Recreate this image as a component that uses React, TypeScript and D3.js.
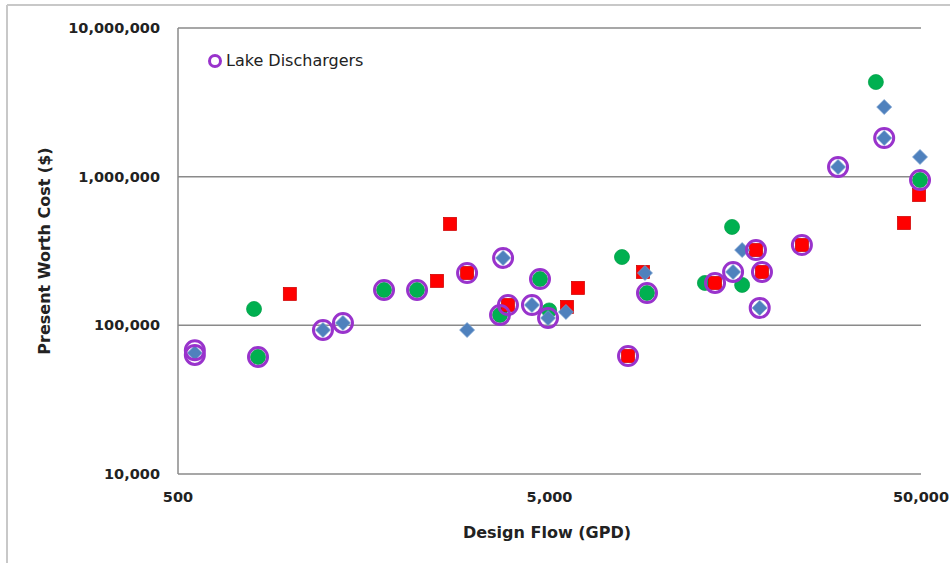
import React from "react";
import * as d3 from "d3";

// ---- data (Design Flow GPD, Present Worth Cost $) ----
const xTicks = [500, 5000, 50000];
const yTicks = [10000, 100000, 1000000, 10000000];

const greenFlow = [801, 821, 1793, 2200, 3680, 4714, 4990, 7835, 9150, 13100, 15500, 16500, 37800, 49700];
const greenCost = [128900, 61300, 173000, 173000, 117500, 205000, 126000, 288000, 165000, 192800, 459000, 187000, 4330000, 950000];

const redFlow = [1000, 2490, 2700, 3000, 3865, 5574, 5964, 8135, 8925, 13950, 17980, 18660, 23900, 49400, 45000];
const redCost = [162600, 199000, 481000, 225000, 137000, 133000, 178500, 62200, 228600, 192800, 321000, 228600, 347000, 753000, 488000];

const blueFlow = [555, 1228, 1390, 3000, 3750, 4485, 4955, 5536, 9036, 15600, 16500, 18400, 29900, 39800, 39800, 49700];
const blueCost = [65200, 93100, 103800, 93000, 284000, 137000, 112000, 123000, 225000, 228600, 321000, 131000, 1162000, 2940000, 1820000, 1357000];

const lakeFlow = [555, 555, 821, 1228, 1390, 1793, 2200, 3000, 3750, 3680, 3865, 4485, 4714, 4955, 8135, 9150, 13950, 15600, 17980, 18660, 18400, 23900, 29900, 39800, 49700];
const lakeCost = [68000, 63200, 61300, 93100, 103800, 173000, 173000, 225000, 284000, 117500, 137000, 137000, 205000, 112000, 62200, 165000, 192800, 228600, 321000, 228600, 131000, 347000, 1162000, 1820000, 950000];

const legendLabel = "Lake Dischargers";
const xTitle = "Design Flow (GPD)";
const yTitle = "Present Worth Cost ($)";

const W = 950;
const H = 563;
const plot = { left: 178, right: 921, top: 28, bottom: 474 };

const fmt = d3.format(",");

export default function App() {
  const x = d3.scaleLog().domain([500, 50000]).range([plot.left, plot.right]);
  const y = d3.scaleLog().domain([10000, 10000000]).range([plot.bottom, plot.top]);
  const font = "'DejaVu Sans', sans-serif";
  const grid = "#8a8a8a";

  const pts = (fx: number[], fy: number[]) => fx.map((v, i) => [x(v), y(fy[i])] as [number, number]);

  return (
    <svg width={W} height={H} style={{ position: "absolute", left: 0, top: 0, background: "#fff" }}>
      {/* outer chart border */}
      <line x1={7} y1={5} x2={W} y2={5} stroke="#c8c8c8" strokeWidth={2} />
      <line x1={7} y1={5} x2={7} y2={H} stroke="#c8c8c8" strokeWidth={2} />

      {/* gridlines */}
      {yTicks.map((t) => (
        <line key={t} x1={plot.left} x2={plot.right} y1={y(t)} y2={y(t)} stroke={grid} strokeWidth={1.5} />
      ))}
      <line x1={plot.left} x2={plot.left} y1={plot.top} y2={plot.bottom} stroke={grid} strokeWidth={1.5} />

      {/* y tick labels */}
      {yTicks.map((t) => (
        <text key={t} x={160} y={y(t)} dy="0.35em" textAnchor="end" fontFamily={font} fontWeight="bold" fontSize={14.5} fill="#222">
          {fmt(t)}
        </text>
      ))}
      {/* x tick labels */}
      {xTicks.map((t) => (
        <text key={t} x={x(t)} y={502} textAnchor="middle" fontFamily={font} fontWeight="bold" fontSize={14.5} fill="#222">
          {fmt(t)}
        </text>
      ))}

      {/* axis titles */}
      <text x={547} y={538} textAnchor="middle" fontFamily={font} fontWeight="bold" fontSize={16} fill="#222">
        {xTitle}
      </text>
      <text transform={`translate(50,${(plot.top + plot.bottom) / 2}) rotate(-90)`} textAnchor="middle" fontFamily={font} fontWeight="bold" fontSize={16} fill="#222">
        {yTitle}
      </text>

      {/* green circles */}
      {pts(greenFlow, greenCost).map(([cx, cy], i) => (
        <circle key={"g" + i} cx={cx} cy={cy} r={7.5} fill="#00B050" stroke="#00A048" strokeWidth={0.75} />
      ))}
      {/* red squares */}
      {pts(redFlow, redCost).map(([cx, cy], i) => (
        <rect key={"r" + i} x={cx - 6.5} y={cy - 6.5} width={13} height={13} fill="#FF0000" stroke="#D00000" strokeWidth={0.75} />
      ))}
      {/* blue diamonds */}
      {pts(blueFlow, blueCost).map(([cx, cy], i) => (
        <path key={"b" + i} d={`M${cx},${cy - 7.5}L${cx + 7.5},${cy}L${cx},${cy + 7.5}L${cx - 7.5},${cy}Z`} fill="#4F81BD" stroke="#7aa0d0" strokeWidth={0.75} />
      ))}
      {/* lake dischargers rings */}
      {pts(lakeFlow, lakeCost).map(([cx, cy], i) => (
        <circle key={"l" + i} cx={cx} cy={cy} r={9.5} fill="none" stroke="#9933CC" strokeWidth={3} />
      ))}

      {/* legend */}
      <circle cx={215} cy={61} r={5.5} fill="none" stroke="#9933CC" strokeWidth={3} />
      <text x={226} y={66} fontFamily={font} fontSize={16} fill="#222">
        {legendLabel}
      </text>
    </svg>
  );
}
